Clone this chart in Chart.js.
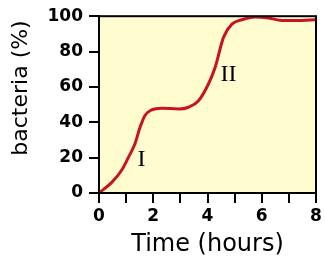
<!DOCTYPE html>
<html>
<head>
<meta charset="utf-8">
<script src="https://cdn.jsdelivr.net/npm/chart.js@4"></script>
<style>
  html, body { margin: 0; padding: 0; background: #fff; }
  .wrap { position: relative; width: 325px; height: 261px; }
</style>
</head>
<body>
<div class="wrap"><canvas id="growthChart"></canvas></div>
<script>
  // ── DATA ──
  const hours = [0, 0.47, 0.84, 1.08, 1.33, 1.51, 1.70, 1.94, 2.31, 2.93, 3.30, 3.66, 4.03, 4.28, 4.59, 4.90, 5.27, 5.76, 6.25, 6.74, 7.48, 7.97];
  const bacteria = [0, 6, 13, 20, 28, 37, 44, 47, 48, 47.5, 48.5, 52, 61.5, 71, 88, 95.5, 98, 99.5, 99, 97.6, 97.6, 98];
  const phaseLabels = ['I', 'II'];
  const phaseHours = [1.57, 4.77];
  const phaseValues = [19, 67];
  const yTitle = 'bacteria (%)';

  const points = hours.map((h, i) => ({ x: h, y: bacteria[i] }));

  // ── PLOT BOX, Y TITLE + PHASE LABELS ──
  const plotBox = {
    id: 'plotBox',
    beforeDraw(chart) {
      const { ctx, chartArea: a } = chart;
      ctx.save();
      ctx.fillStyle = '#fffccf';
      ctx.fillRect(a.left, a.top, a.right - a.left, a.bottom - a.top);
      ctx.restore();
    },
    afterDraw(chart) {
      const { ctx, chartArea: a, scales } = chart;
      ctx.save();
      ctx.strokeStyle = '#000';
      ctx.lineWidth = 2;
      ctx.strokeRect(a.left, a.top, a.right - a.left, a.bottom - a.top);
      ctx.fillStyle = '#000';
      ctx.textAlign = 'center';
      ctx.textBaseline = 'middle';

      // y title sits a bit above the axis middle
      ctx.save();
      ctx.translate(21, 88);
      ctx.rotate(-Math.PI / 2);
      ctx.font = '22px "DejaVu Sans", sans-serif';
      ctx.fillText(yTitle, 0, 0);
      ctx.restore();

      ctx.font = '24px "Liberation Serif", serif';
      phaseLabels.forEach((t, i) => {
        ctx.fillText(t, scales.x.getPixelForValue(phaseHours[i]), scales.y.getPixelForValue(phaseValues[i]));
      });
      ctx.restore();
    }
  };

  const ctx = document.getElementById('growthChart').getContext('2d');
  new Chart(ctx, {
    type: 'line',
    data: {
      datasets: [{
        data: points,
        borderColor: '#c8141e',
        borderWidth: 3,
        pointRadius: 0,
        tension: 0.4,
        cubicInterpolationMode: 'monotone',
        fill: false
      }]
    },
    options: {
      responsive: true,
      maintainAspectRatio: false,
      animation: false,
      layout: { padding: { left: 0, right: 9, top: 15, bottom: 0 } },
      plugins: { legend: { display: false }, tooltip: { enabled: false } },
      scales: {
        x: {
          type: 'linear',
          min: 0, max: 8,
          afterFit: s => { s.height = 68; },
          border: { display: true, color: '#000', width: 2 },
          grid: { drawOnChartArea: false, drawTicks: true, tickLength: 10, color: '#000', lineWidth: 2 },
          ticks: {
            stepSize: 1, autoSkip: false, maxRotation: 0, padding: 3, color: '#000',
            font: { family: '"DejaVu Sans"', size: 17, weight: 'bold' },
            callback: v => (v % 2 === 0 ? v : '')
          },
          title: {
            display: true, text: 'Time (hours)', color: '#000',
            font: { family: '"DejaVu Sans"', size: 24 },
            padding: { top: 0, bottom: 2 }
          }
        },
        y: {
          min: 0, max: 100,
          afterFit: s => { s.width = 99; },
          border: { display: true, color: '#000', width: 2 },
          grid: { drawOnChartArea: false, drawTicks: true, tickLength: 10, color: '#000', lineWidth: 2 },
          ticks: {
            stepSize: 20, padding: 6, color: '#000',
            font: { family: '"DejaVu Sans"', size: 17, weight: 'bold' }
          }
        }
      }
    },
    plugins: [plotBox]
  });
</script>
</body>
</html>
